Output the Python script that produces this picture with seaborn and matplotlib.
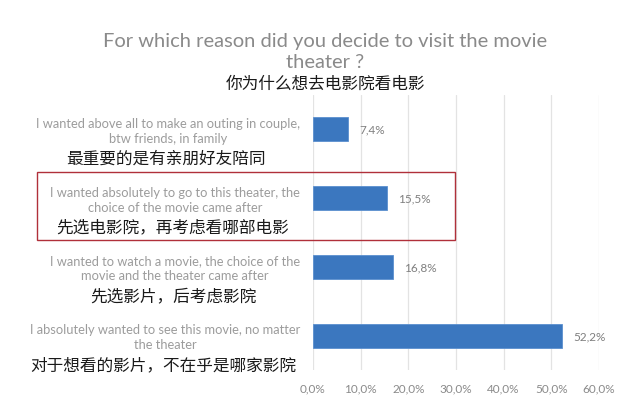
import matplotlib
matplotlib.use("Agg")
import matplotlib.pyplot as plt
from matplotlib.patches import Rectangle
import seaborn as sns
import pandas as pd

# ---- data ----
categories_en = [
    "I wanted above all to make an outing in couple,\nbtw friends, in family",
    "I wanted absolutely to go to this theater, the\nchoice of the movie came after",
    "I wanted to watch a movie, the choice of the\nmovie and the theater came after",
    "I absolutely wanted to see this movie, no matter\nthe theater",
]
categories_zh = [
    "最重要的是有亲朋好友陪同",
    "先选电影院，再考虑看哪部电影",
    "先选影片，后考虑影院",
    "对于想看的影片，不在乎是哪家影院",
]
values = [7.4, 15.5, 16.8, 52.2]
x_ticks = [0, 10, 20, 30, 40, 50, 60]
title_en = "For which reason did you decide to visit the movie\ntheater ?"
title_zh = "你为什么想去电影院看电影"

def pct(v):
    return f"{v:.1f}".replace(".", ",") + "%"

sns.set_theme(style="white")
plt.rcParams["font.family"] = ["Lato", "DejaVu Sans"]

df = pd.DataFrame({"cat": categories_en, "val": values})

fig = plt.figure(figsize=(6.4, 4.1), dpi=100)
ax = fig.add_axes([313 / 640, 1 - 371 / 410, (599 - 313) / 640, (371 - 96) / 410])

sns.barplot(data=df, x="val", y="cat", order=categories_en, color="#3b77bf",
            width=0.35, saturation=1, ax=ax, edgecolor="#5b90cf", linewidth=0.6)

ax.set_xlim(0, 60)
ax.set_ylim(3.5, -0.5)
ax.set_xticks(x_ticks)
ax.set_xticklabels([pct(t) for t in x_ticks], color="#8a8a8a", fontsize=8.5)
ax.tick_params(axis="x", length=0, pad=9)
ax.set_yticks(range(len(categories_en)))
ax.set_yticklabels([])
ax.tick_params(axis="y", length=0)
ax.set_xlabel("")
ax.set_ylabel("")
for s in ax.spines.values():
    s.set_visible(False)
ax.grid(axis="x", color="#e3e3e3", linewidth=0.9)
ax.set_axisbelow(True)

# value labels
for i, v in enumerate(values):
    ax.annotate(pct(v), xy=(v, i), xytext=(11, 0), textcoords="offset pixels",
                ha="left", va="center", fontsize=8.5, color="#7f7f7f")

# category labels
ytrans = ax.get_yaxis_transform()
en_texts = []
for i, lab in enumerate(categories_en):
    t = ax.annotate(lab, xy=(0, i), xycoords=ytrans, xytext=(-13, -1),
                    textcoords="offset pixels", ha="right", va="center",
                    multialignment="center", fontsize=9.3, color="#9c9c9c",
                    linespacing=1.3)
    en_texts.append(t)

fig.canvas.draw()
renderer = fig.canvas.get_renderer()
for i, (t, zh) in enumerate(zip(en_texts, categories_zh)):
    bb = t.get_window_extent(renderer)
    xc_axes = ax.transAxes.inverted().transform(((bb.x0 + bb.x1) / 2, 0))[0]
    ax.annotate(zh, xy=(xc_axes, i), xycoords=ytrans, xytext=(-2, -29),
                textcoords="offset pixels", ha="center", va="center",
                fontsize=12, color="#1a1a1a",
                family=["Noto Sans CJK SC", "DejaVu Sans"])

# titles
fig.text(325 / 640, 1 - 52 / 410, title_en, ha="center", va="center",
         fontsize=14.5, color="#8a8a8a", linespacing=1.25)
fig.text(325 / 640, 1 - 84 / 410, title_zh, ha="center", va="center",
         fontsize=12, color="#1a1a1a", family=["Noto Sans CJK SC", "DejaVu Sans"])

# red highlight box
fig.patches.append(Rectangle((37 / 640, 1 - 241 / 410), (455 - 37) / 640, (241 - 173) / 410,
                             transform=fig.transFigure, fill=False,
                             edgecolor="#b0303a", linewidth=1.0))

fig.savefig("out.png", dpi=100)
